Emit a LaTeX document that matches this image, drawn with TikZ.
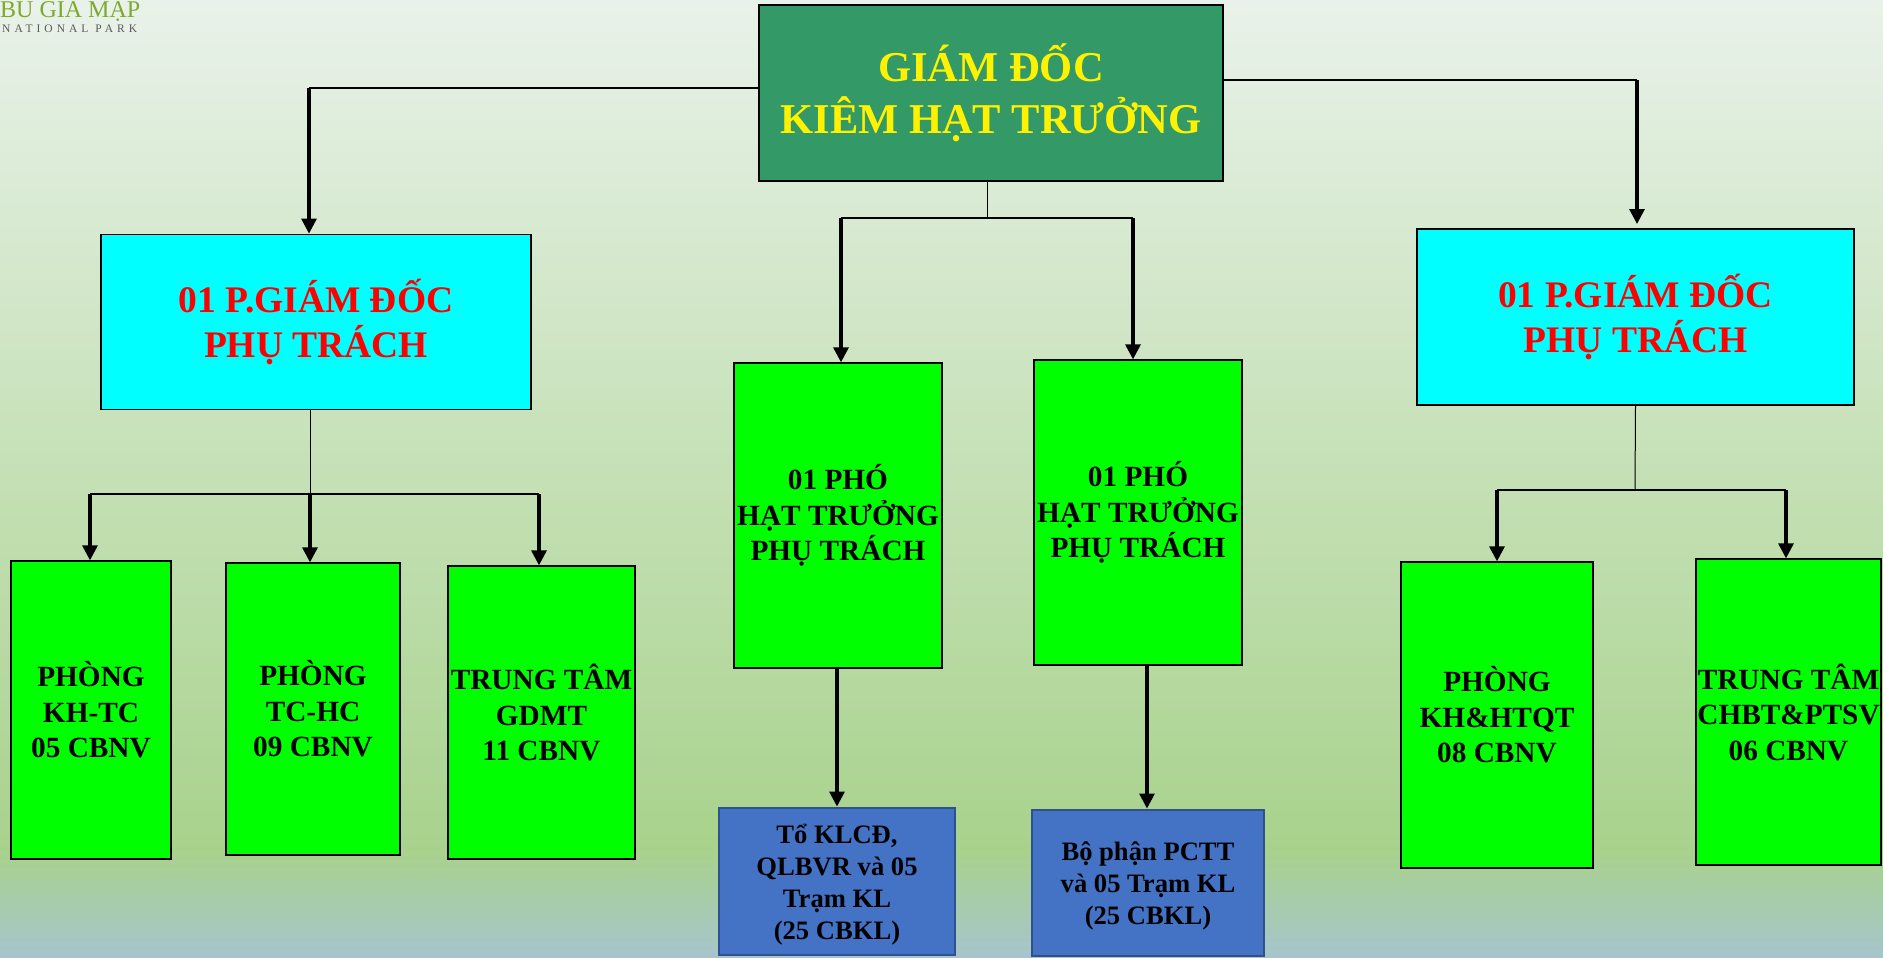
\documentclass[tikz,border=0pt]{standalone}
\usepackage{fontspec}
\setmainfont{Liberation Serif}
\newfontfamily\logofont[LetterSpace=35]{Liberation Serif}
\usetikzlibrary{arrows.meta}
\definecolor{nentren}{RGB}{233,242,234}
\definecolor{nengiua}{RGB}{168,210,140}
\definecolor{nenduoi}{RGB}{166,197,204}
\definecolor{xanhgd}{RGB}{51,153,102}
\definecolor{xanhpgd}{RGB}{0,255,255}
\definecolor{xanhto}{RGB}{68,114,196}
\definecolor{vienxanh}{RGB}{47,82,143}
\definecolor{lalogo}{RGB}{127,168,47}
\tikzset{
  hopden/.style = {draw = black, line width = 1.8pt, align = center, inner sep = 0pt, font = \bfseries},
  gdbox/.style = {hopden, fill = xanhgd, text = yellow, font = \bfseries\fontsize{42.5}{52}\selectfont},
  pgdbox/.style = {hopden, fill = xanhpgd, text = red, font = \bfseries\fontsize{37.5}{45}\selectfont},
  phongbox/.style = {hopden, line width = 1.3pt, fill = green, text = black, font = \bfseries\fontsize{29.3}{35.5}\selectfont},
  tobox/.style = {hopden, line width = 2pt, draw = vienxanh, fill = xanhto, text = black, font = \bfseries\fontsize{26.6}{32}\selectfont},
  nhanh/.style = {line width = 1.8pt},
  than/.style = {line width = 1pt},
  muiten/.style = {line width = 3.1pt, -{Triangle[width = 15pt, length = 15pt]}}
}
\begin{document}
\begin{tikzpicture}[x = 1pt, y = -1pt]
  \useasboundingbox (0,0) rectangle (1883,958);
  \fill [top color = nentren, bottom color = nengiua] (0,0) rectangle (1883,850);
  \fill [top color = nengiua, bottom color = nenduoi] (0,850) rectangle (1883,958);

  \node [anchor = base west, text = lalogo, font = \fontsize{24}{25}\selectfont, inner sep = 0pt] (logoten) at (0,18) {BÙ GIA MẬP};
  \node [anchor = base west, text = black!65, font = \logofont\fontsize{11.5}{12}\selectfont, inner sep = 0pt] (logophu) at (2,33) {NATIONAL PARK};

  \node [gdbox, minimum width = 464pt, minimum height = 176pt] (giamdoc) at (991,93) {GIÁM ĐỐC\\KIÊM HẠT TRƯỞNG};
  \node [pgdbox, minimum width = 430pt, minimum height = 175pt] (pgdtrai) at (316,322) {01 P.GIÁM ĐỐC\\PHỤ TRÁCH};
  \node [pgdbox, minimum width = 437pt, minimum height = 176pt] (pgdphai) at (1635.5,317) {01 P.GIÁM ĐỐC\\PHỤ TRÁCH};
  \node [phongbox, minimum width = 208pt, minimum height = 305pt] (phohat1) at (838,515.5) {01 PHÓ\\HẠT TRƯỞNG\\PHỤ TRÁCH};
  \node [phongbox, minimum width = 208pt, minimum height = 305pt] (phohat2) at (1138,512.5) {01 PHÓ\\HẠT TRƯỞNG\\PHỤ TRÁCH};
  \node [phongbox, minimum width = 160pt, minimum height = 298pt] (khtc) at (91,710) {PHÒNG\\KH-TC\\05 CBNV};
  \node [phongbox, minimum width = 174pt, minimum height = 292pt] (tchc) at (313,709) {PHÒNG\\TC-HC\\09 CBNV};
  \node [phongbox, minimum width = 187pt, minimum height = 293pt] (gdmt) at (541.5,712.5) {TRUNG TÂM\\GDMT\\11 CBNV};
  \node [phongbox, minimum width = 192pt, minimum height = 306pt] (khhtqt) at (1497,715) {PHÒNG\\KH\&HTQT\\08 CBNV};
  \node [phongbox, minimum width = 185pt, minimum height = 306pt] (chbt) at (1788.5,712) {TRUNG TÂM\\CHBT\&PTSV\\06 CBNV};
  \node [tobox, minimum width = 236pt, minimum height = 147pt] (toklcd) at (837,881) {\rule{0pt}{26pt}Tổ KLCĐ,\\QLBVR và 05\\Trạm KL\\(25 CBKL)};
  \node [tobox, minimum width = 232pt, minimum height = 146pt] (bophan) at (1148,882.5) {\rule{0pt}{25pt}Bộ phận PCTT\\và 05 Trạm KL\\(25 CBKL)};

  \coordinate (retrai) at (309,88);
  \coordinate (rephai) at (1637,80);
  \draw [nhanh] (retrai -| giamdoc.west) -- (retrai);
  \draw [muiten] (retrai) -- (retrai |- pgdtrai.north);
  \draw [nhanh] (rephai -| giamdoc.east) -- (rephai);
  \draw [muiten] (rephai) -- (1637,224);

  \coordinate (busgiua) at (987,218);
  \coordinate (bg1) at (841,218);
  \coordinate (bg2) at (1133,218);
  \draw [than] (busgiua |- giamdoc.south) -- (busgiua);
  \draw [nhanh] (bg1) -- (bg2);
  \draw [muiten] (bg1) -- (bg1 |- phohat1.north);
  \draw [muiten] (bg2) -- (bg2 |- phohat2.north);

  \coordinate (bustrai) at (310,494);
  \coordinate (bt1) at (90,494);
  \coordinate (bt3) at (539,494);
  \draw [than] (bustrai |- pgdtrai.south) -- (bustrai);
  \draw [nhanh] (bt1) -- (bt3);
  \draw [muiten] (bt1) -- (bt1 |- khtc.north);
  \draw [muiten] (bustrai) -- (bustrai |- tchc.north);
  \draw [muiten] (bt3) -- (bt3 |- gdmt.north);

  \coordinate (busphai) at (1635,490);
  \coordinate (bp1) at (1497,490);
  \coordinate (bp2) at (1786,490);
  \draw [than] (pgdphai.south) -- (busphai);
  \draw [nhanh] (bp1) -- (bp2);
  \draw [muiten] (bp1) -- (bp1 |- khhtqt.north);
  \draw [muiten] (bp2) -- (bp2 |- chbt.north);

  \coordinate (xuong1) at (837,668);
  \coordinate (xuong2) at (1147,665);
  \draw [muiten] (phohat1.south -| xuong1) -- (xuong1 |- toklcd.north);
  \draw [muiten] (phohat2.south -| xuong2) -- (xuong2 |- bophan.north);
\end{tikzpicture}
\end{document}
